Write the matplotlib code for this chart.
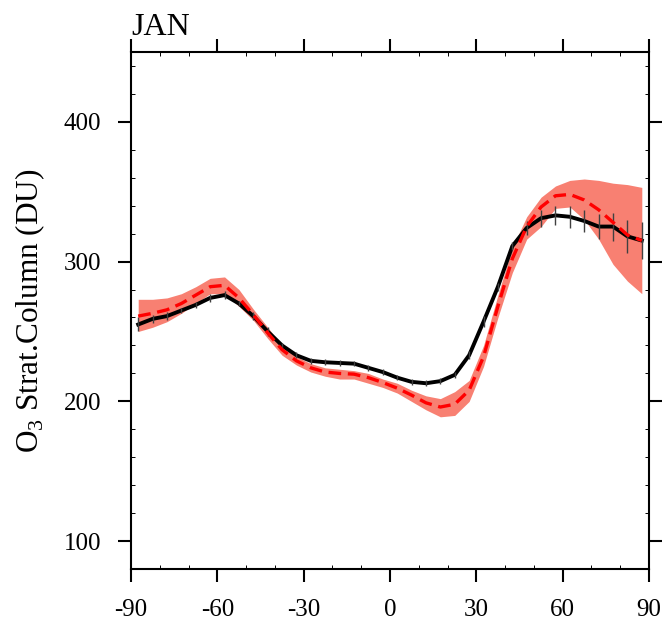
import numpy as np
import matplotlib
matplotlib.use("Agg")
import matplotlib.pyplot as plt

plt.rcParams["font.family"] = ["Liberation Serif", "DejaVu Serif"]
plt.rcParams["mathtext.fontset"] = "custom"
plt.rcParams["mathtext.rm"] = "Liberation Serif"
plt.rcParams["axes.unicode_minus"] = False

# latitudes (deg)
lat = np.arange(-87.5, 90, 5)

# observations (black) with error bars
obs = [255, 259, 261, 265, 269, 274, 276, 270, 261, 250, 240, 233,
       229, 228, 227.5, 227, 224, 221, 217, 214, 213, 214.5, 219, 233,
       257, 282, 311, 324, 331, 333, 332, 329, 325, 325, 318, 315]
obs_err = [5, 3, 3, 2, 2, 3, 3, 2, 3, 3, 2, 2,
           2, 2, 2, 2, 2, 2, 2, 2, 2, 2, 2, 3,
           4, 3, 3, 5, 6, 7, 8, 8, 9, 10, 12, 13]

# model mean (red dashed) and spread (band)
model = [261, 263, 265.5, 270, 276, 282, 283, 274, 262, 249, 237, 229,
         224, 221, 220, 219.5, 217, 213.5, 209.5, 204.5, 199, 196, 198, 208,
         232, 268, 302, 325, 339, 347, 348, 344, 337, 328, 319, 315]
model_hi = [273, 273, 274, 277, 282, 288, 289, 280, 266, 253, 240, 232,
            227, 224, 223, 222, 220, 216, 213, 208, 204, 202, 207, 215,
            240, 276, 310, 332, 346, 354, 358, 359, 358, 356, 355, 353]
model_lo = [250, 253, 257, 263, 270, 277, 277, 268, 258, 245, 233, 226,
            221, 218, 216, 216, 213, 210, 206, 200, 194, 189, 190, 200,
            225, 260, 292, 316, 325, 338, 339, 330, 316, 298, 286, 277]

fig = plt.figure(figsize=(6.66, 6.27), dpi=100)
ax = fig.add_axes([131/666, 1 - 569.3/627, (649-131)/666, (569.3-51.7)/627])

ax.fill_between(lat, model_lo, model_hi, color="#f88072", lw=0)
ax.plot(lat, obs, color="black", lw=2.8)
ax.vlines(lat, np.array(obs) - np.array(obs_err), np.array(obs) + np.array(obs_err),
          color="0.25", lw=1.0)
ax.plot(lat, model, color="red", lw=2.4, dashes=(3.8, 2.0))

ax.set_xlim(-90, 90)
ax.set_ylim(80, 450)
ax.set_xticks(np.arange(-90, 91, 30))
ax.set_xticks(np.arange(-90, 91, 10), minor=True)
ax.set_yticks([100, 200, 300, 400])
ax.set_yticks(np.arange(80, 451, 20), minor=True)

for s in ax.spines.values():
    s.set_linewidth(1.5)
ax.tick_params(which="major", direction="out", length=9.5, width=1.5,
               labelsize=18, pad=12, top=True, right=True)
ax.tick_params(which="minor", direction="in", length=3, width=0.7,
               top=True, right=True)

ax.set_ylabel("O$_{3}$ Strat.Column (DU)", fontsize=22.5, labelpad=12)
fig.text(131/666, 1 - 35/627, "JAN", fontsize=23, va="baseline", ha="left")

fig.savefig("out.png", dpi=100)
